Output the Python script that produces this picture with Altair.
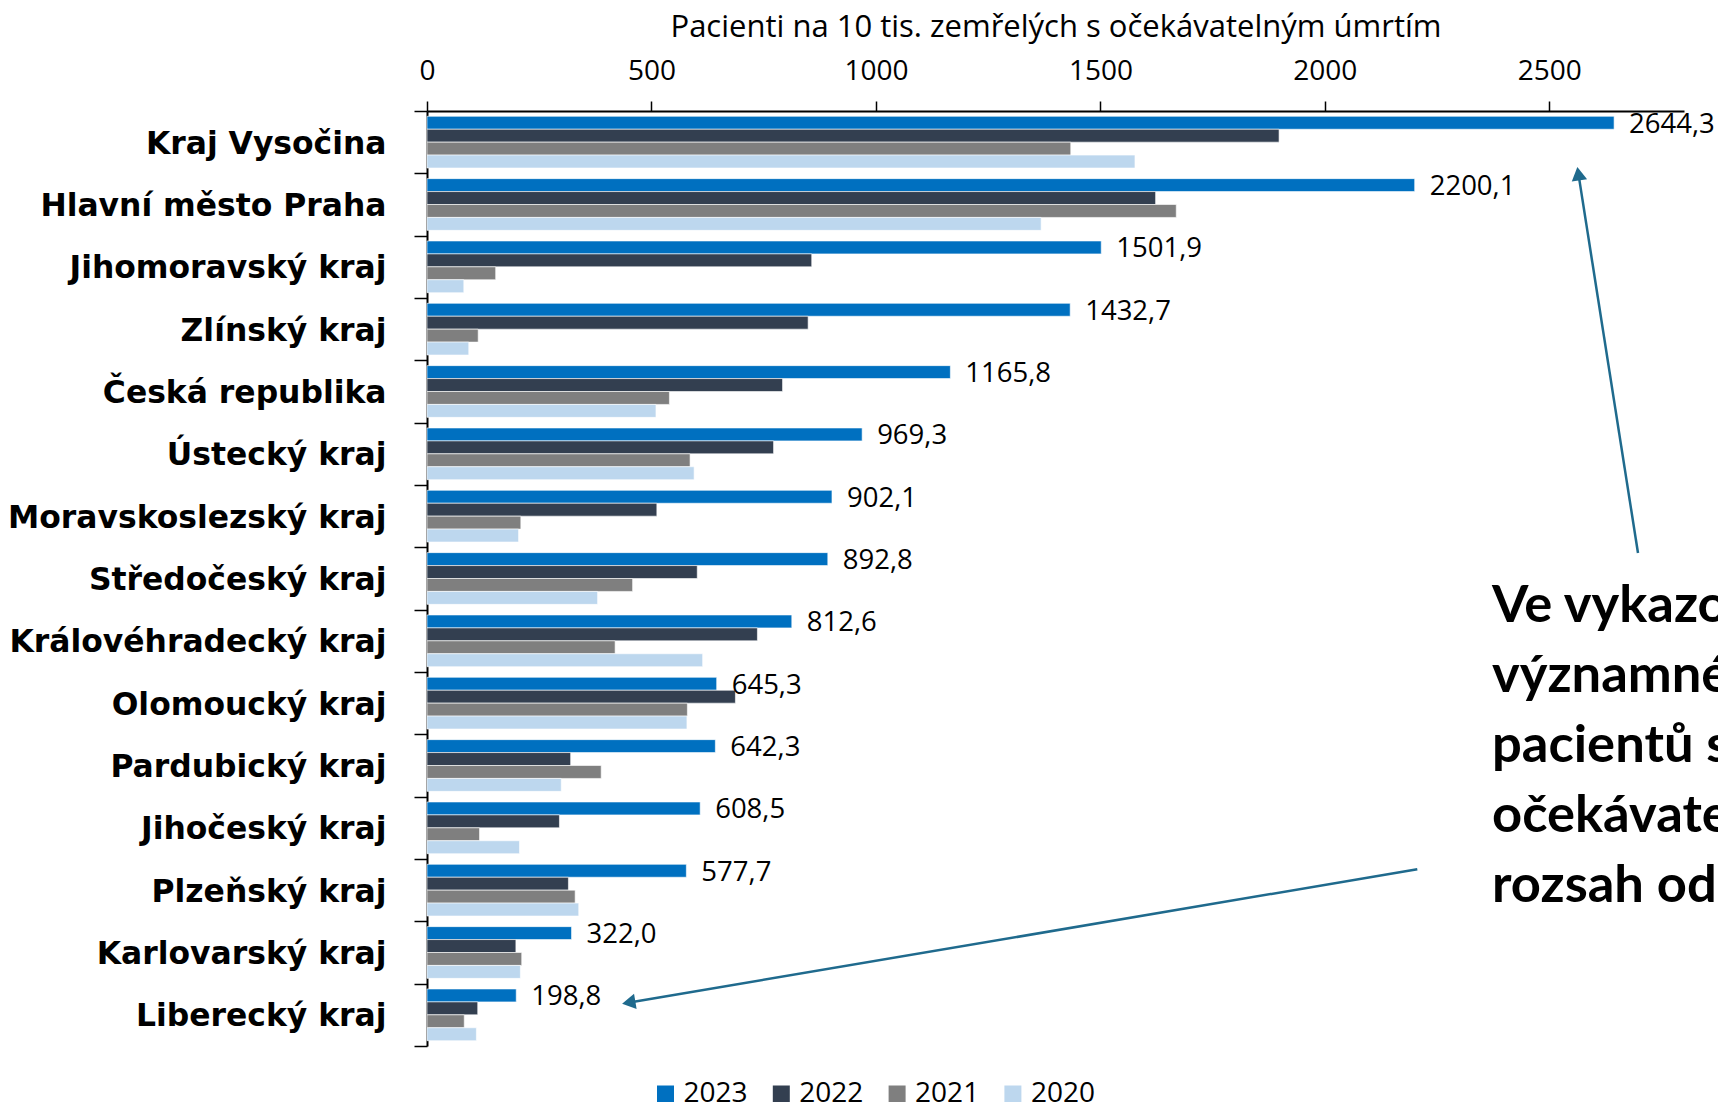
import math
import altair as alt
import pandas as pd

REGIONS = ["Kraj Vysočina", "Hlavní město Praha", "Jihomoravský kraj", "Zlínský kraj",
           "Česká republika", "Ústecký kraj", "Moravskoslezský kraj", "Středočeský kraj",
           "Královéhradecký kraj", "Olomoucký kraj", "Pardubický kraj", "Jihočeský kraj",
           "Plzeňský kraj", "Karlovarský kraj", "Liberecký kraj"]
YEARS = ["2023", "2022", "2021", "2020"]
V2023 = [2644.3, 2200.1, 1501.9, 1432.7, 1165.8, 969.3, 902.1, 892.8, 812.6, 645.3, 642.3, 608.5, 577.7, 322.0, 198.8]
V2022 = [1898, 1623, 857, 849, 792, 772, 512, 602, 736, 687, 320, 295, 315, 198, 113]
V2021 = [1434, 1669, 153, 114, 540, 586, 209, 458, 419, 580, 388, 117, 330, 211, 83]
V2020 = [1577, 1368, 82, 93, 510, 595, 204, 380, 614, 579, 299, 206, 338, 208, 110]
COLORS = ["#0070C0", "#333F50", "#7F7F7F", "#BDD7EE"]
X_TICKS = [0, 500, 1000, 1500, 2000, 2500]
X_TITLE = "Pacienti na 10 tis. zemřelých s očekávatelným úmrtím"
NOTE_LINES = ["Ve vykazování", "významné", "pacientů s", "očekávatelným", "rozsah od"]

rows = []
for yr, vals in zip(YEARS, [V2023, V2022, V2021, V2020]):
    for r, v in zip(REGIONS, vals):
        rows.append({"region": r, "year": yr, "value": v,
                     "label": f"{v:.1f}".replace(".", ",")})
df = pd.DataFrame(rows)

# layout (pixels)
PL, PT, W, H = 419, 103, 1257, 935
TOTAL_W, TOTAL_H = 1710, 1094
FONT = "Open Sans"

x_enc = alt.X("value:Q", scale=alt.Scale(domain=[0, 2800], nice=False, zero=True),
              axis=alt.Axis(orient="top", values=X_TICKS, format="d", title=X_TITLE,
                            grid=False, domainColor="black", domainWidth=2,
                            tickColor="black", tickWidth=1.5, tickSize=10,
                            labelFont=FONT, labelFontSize=28, labelColor="black",
                            labelFlush=False, labelOverlap=False,
                            labelPadding=16, titleFont=FONT, titleFontSize=31,
                            titleFontWeight="normal", titleColor="black", titlePadding=14))
y_enc = alt.Y("region:N", sort=REGIONS,
              scale=alt.Scale(paddingInner=0, paddingOuter=0),
              axis=alt.Axis(title=None, tickBand="extent", domainColor="black", domainWidth=2,
                            tickColor="black", tickWidth=1.5, tickSize=13,
                            labelFont="DejaVu Sans", labelFontWeight="bold",
                            labelFontSize=31.4, labelColor="black", labelPadding=28,
                            labelOffset=2, labelLimit=600))
yoff_enc = alt.YOffset("year:N", sort=YEARS, scale=alt.Scale(paddingOuter=0.41, paddingInner=0))

bars = alt.Chart(df).mark_bar(stroke="white", strokeWidth=0.6).encode(
    x=x_enc, y=y_enc, yOffset=yoff_enc,
    color=alt.Color("year:N", sort=YEARS,
                    scale=alt.Scale(domain=YEARS, range=COLORS),
                    legend=alt.Legend(title=None, orient="none", direction="horizontal",
                                      legendX=224.5, legendY=969, symbolType="square",
                                      symbolSize=289, symbolStrokeWidth=0,
                                      labelFont=FONT, labelFontSize=28, labelColor="black",
                                      labelOffset=4, columnPadding=18.8)),
)

labels = alt.Chart(df).transform_filter(alt.datum.year == "2023").mark_text(
    align="left", baseline="middle", dx=15, dy=2, font=FONT, fontSize=27.5, color="black"
).encode(x="value:Q", y=alt.Y("region:N", sort=REGIONS), yOffset=alt.YOffset("year:N", sort=YEARS),
         text="label:N")

# arrows (page pixel geometry -> plot pixels)
ARROW_COLOR = "#1F6A8D"
arrows_def = [((1638, 553), (1577.7, 169.3)), ((1417.3, 869.3), (624.3, 1003.3))]
layers = [bars, labels]
tri_size = 240
tip_off = math.sqrt(3) / 4 * math.sqrt(tri_size)
for (tx, ty), (hx, hy) in arrows_def:
    tx, ty, hx, hy = tx - 427, ty - 111, hx - 427, hy - 111
    dx, dy = hx - tx, hy - ty
    L = math.hypot(dx, dy)
    ux, uy = dx / L, dy / L
    cx, cy = hx - ux * tip_off, hy - uy * tip_off
    ang = math.degrees(math.atan2(dx, -dy)) % 360
    one = pd.DataFrame({"a": [0]})
    layers.append(alt.Chart(one).mark_rule(color=ARROW_COLOR, strokeWidth=2.5).encode(
        x=alt.value(tx), y=alt.value(ty), x2=alt.value(cx), y2=alt.value(cy)))
    layers.append(alt.Chart(one).mark_point(shape="triangle", filled=True, size=tri_size,
                                            color=ARROW_COLOR, opacity=1, angle=ang).encode(
        x=alt.value(cx), y=alt.value(cy)))

# annotation text (clipped at the right edge like the source)
for i, line in enumerate(NOTE_LINES):
    layers.append(alt.Chart(pd.DataFrame({"t": [line]})).mark_text(
        align="left", baseline="alphabetic", font="Lato", fontWeight="bold",
        fontSize=52.5, color="black").encode(
        x=alt.value(1492 - 427), y=alt.value(510.7 + 70 * i), text="t:N"))

chart = alt.layer(*layers).properties(
    width=W, height=H, background="white",
    autosize=alt.AutoSizeParams(type="none"),
    padding={"left": PL, "top": PT, "right": TOTAL_W - PL - W, "bottom": TOTAL_H - PT - H},
).configure_view(stroke=None)

chart.save("out.html", embed_options={"renderer": "svg", "actions": False})
